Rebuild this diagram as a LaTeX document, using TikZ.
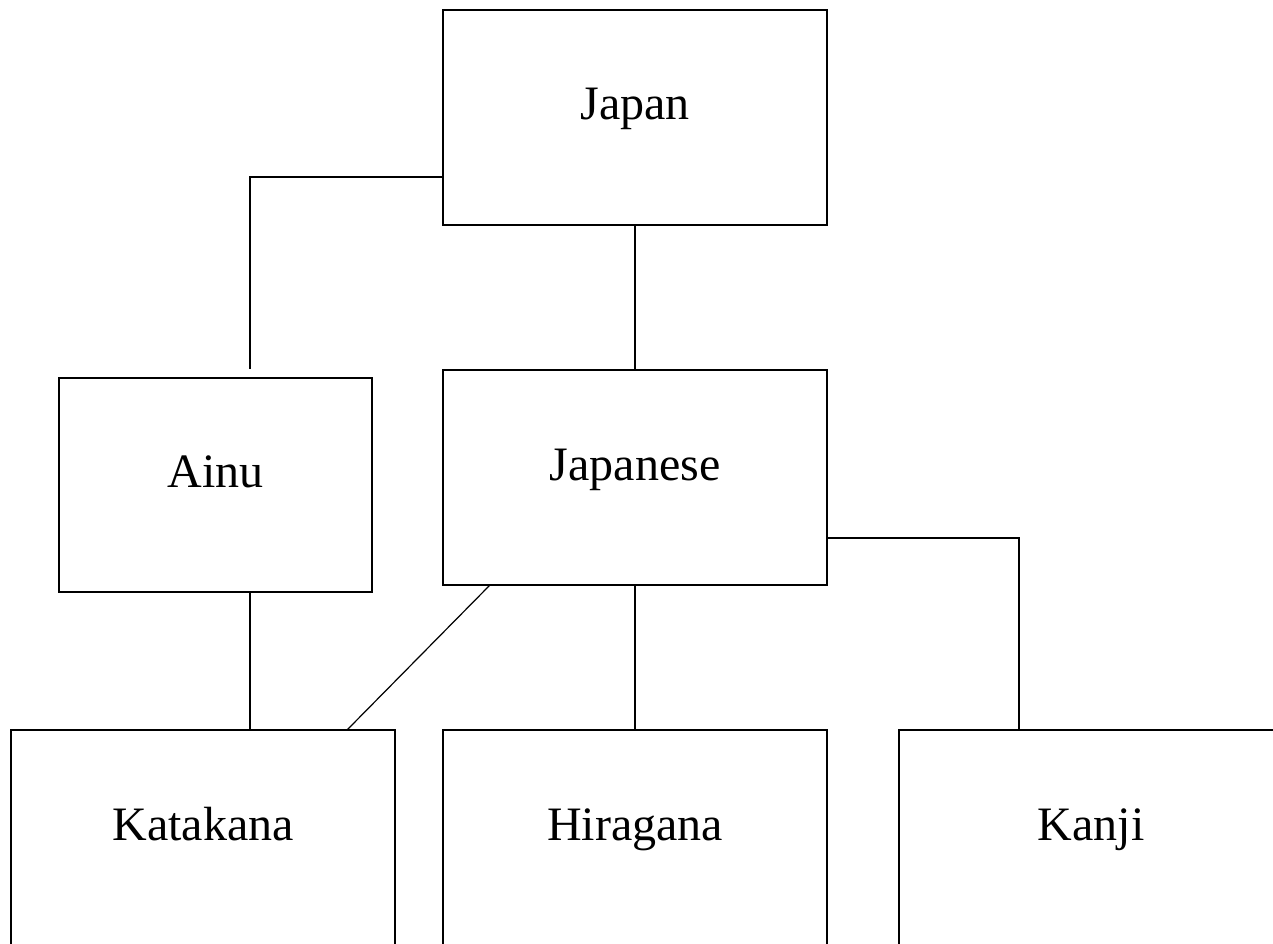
\documentclass[tikz,border=0pt]{standalone}
\usepackage{fontspec}
\setmainfont{Liberation Serif}
\begin{document}
\begin{tikzpicture}[x=1pt,y=-1pt,
  box/.style={draw=black, line width=1.3pt, inner sep=0pt, minimum width=384pt, minimum height=215pt,
    font=\fontsize{48}{58}\selectfont, text height=5pt, text depth=0pt},
  conn/.style={draw=black, line width=1.2pt}]
\useasboundingbox (0,0) rectangle (1273,944);
\clip (0,0) rectangle (1273,944);
\node[box] (japan) at (635,117.5) {Japan};
\node[box, minimum width=313pt, minimum height=214pt] (ainu) at (215.5,485) {Ainu};
\node[box] (japanese) at (635,477.5) {Japanese};
\node[box] (katakana) at (203,837.5) {Katakana};
\node[box] (hiragana) at (635,837.5) {Hiragana};
\node[box] (kanji) at (1091,837.5) {Kanji};
\draw[conn] ([yshift=-59.5pt]japan.west) -| ([xshift=34.5pt,yshift=8pt]ainu.north);
\draw[conn] (japan.south) -- (japanese.north);
\draw[conn] ([xshift=34.5pt]ainu.south) -- ([xshift=47pt]katakana.north);
\draw[conn] ([xshift=47pt]japanese.south west) -- ([xshift=-48pt]katakana.north east);
\draw[conn] (japanese.south) -- (hiragana.north);
\draw[conn] ([yshift=-60.5pt]japanese.east) -| ([xshift=-72pt]kanji.north);
\end{tikzpicture}
\end{document}
